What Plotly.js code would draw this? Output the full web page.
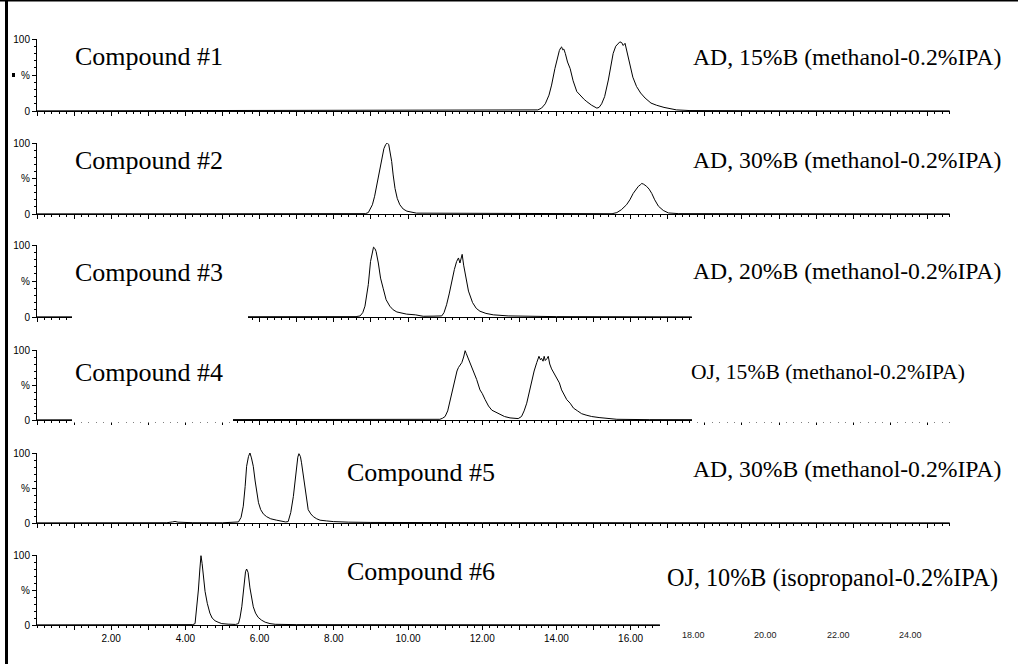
<!DOCTYPE html>
<html><head><meta charset="utf-8">
<script src="https://cdn.plot.ly/plotly-3.0.1.min.js"></script>
<style>html,body{margin:0;padding:0;background:#fff}#chart{width:1018px;height:664px}</style>
</head><body><div id="chart"></div>
<script>
// ---- text ----
const compoundLabels = ["Compound #1","Compound #2","Compound #3","Compound #4","Compound #5","Compound #6"];
const conditionLabels = [
  "AD, 15%B (methanol-0.2%IPA)",
  "AD, 30%B (methanol-0.2%IPA)",
  "AD, 20%B (methanol-0.2%IPA)",
  "OJ, 15%B (methanol-0.2%IPA)",
  "AD, 30%B (methanol-0.2%IPA)",
  "OJ, 10%B (isopropanol-0.2%IPA)"
];
const bottomTickLabels = ["2.00","4.00","6.00","8.00","10.00","12.00","14.00","16.00"];
const cutTickLabels = ["18.00","20.00","22.00","24.00"];
const yTickVals = [0, 50, 100];
const yTickText = ["0", "%", "100"];

// ---- data: retention time (min) vs relative intensity (%) ----
const time1 = [0,3,6,9,12,13.3,13.5,13.6,13.7,13.8,13.87,13.96,14.03,14.08,14.12,14.14,14.17,14.2,14.24,14.3,14.37,14.45,14.55,14.65,14.75,14.82,14.95,15.09,15.15,15.22,15.3,15.4,15.47,15.53,15.6,15.66,15.71,15.76,15.8,15.85,15.92,15.98,16.06,16.16,16.27,16.39,16.55,16.7,16.9,17.24,17.6,20,24.6];
const pct1  = [0.2,0.3,0.2,0.3,0.4,0.6,1.5,4,10,22,36,59,74,84,88,89,85,86,80,68,59,42,27,21,16,13,8,4,5,10,20,43,64,80,90,93,96,95,91,94,78,62,47,34,25,18,11,8,5,1.5,0.6,0.3,0.2];

const time2 = [0,4,8,8.85,8.93,9.04,9.1,9.16,9.22,9.29,9.35,9.4,9.44,9.48,9.52,9.56,9.6,9.65,9.71,9.78,9.87,9.97,10.23,12,14,15.5,15.63,15.75,15.89,15.98,16.07,16.15,16.21,16.26,16.3,16.35,16.43,16.5,16.57,16.65,16.75,16.88,17.02,17.3,20,24.6];
const pct2  = [0.2,0.3,0.3,0.5,2,13,25,41,60,78,92,98,100,98,88,74,55,36,22,13,7,4,1.2,0.6,0.4,0.4,2,6,13,20,29,35,39,41,43,42,39,35,29,20,11,5,1.5,0.5,0.3,0.2];

const time3 = [0,3,6,8,8.6,8.71,8.78,8.84,8.93,8.99,9.03,9.07,9.11,9.14,9.2,9.24,9.26,9.33,9.41,9.51,9.6,9.7,9.96,10.2,10.41,10.7,10.91,10.97,11.04,11.11,11.18,11.25,11.31,11.36,11.4,11.43,11.46,11.5,11.54,11.63,11.74,11.84,11.94,12.1,12.3,12.7,14,17.65];
const pct3  = [0.2,0.3,0.2,0.3,0.5,1.5,6,15,45,77,90,97,95,91,75,62,54,40,24,15,10,7,4,3,1,1.2,1.5,6,17,32,50,66,77,82,75,82,87,72,59,36,20,12,8,5,3,1.5,0.5,0.2];

const time4 = [0,4,8,10.5,10.86,10.93,11.0,11.07,11.13,11.2,11.27,11.32,11.36,11.45,11.5,11.54,11.57,11.6,11.66,11.72,11.78,11.85,11.94,12.0,12.08,12.17,12.26,12.37,12.48,12.6,12.75,12.97,13.06,13.13,13.2,13.27,13.33,13.4,13.47,13.53,13.57,13.6,13.64,13.67,13.7,13.72,13.75,13.78,13.82,13.87,13.94,14.01,14.08,14.14,14.21,14.28,14.37,14.46,14.57,14.68,14.8,14.95,15.15,15.36,15.63,16.5,20,24.6];
const pct4  = [0.2,0.3,0.2,0.4,1,2.5,5,13,27,45,63,70,75,82,90,99,95,91,83,75,67,58,43,38,29,20,14,11,8,5,3,2,5,13,24,40,57,70,82,91,86,88,84,91,85,86,88,91,80,73,67,60,53,43,36,29,24,17,13,9,7,5,3.5,2,1,0.5,0.3,0.2];

const time5 = [0,2,3.5,3.65,3.72,3.8,4.2,5,5.35,5.43,5.5,5.56,5.61,5.65,5.7,5.74,5.78,5.83,5.88,5.92,5.97,6.03,6.1,6.19,6.3,6.46,6.6,6.7,6.77,6.84,6.91,6.96,7.0,7.03,7.06,7.1,7.13,7.18,7.22,7.27,7.31,7.38,7.45,7.54,7.63,7.8,7.99,8.4,9,12,16,20,24.6];
const pct5  = [0.2,0.3,0.4,1.5,2.2,1.2,0.4,0.3,0.5,1.5,8,24,52,81,95,100,93,81,60,43,29,19,13,9,6,4,2.5,1.5,2,15,38,62,81,94,99,95,86,67,48,30,19,13,9,6,4,3,2,1.2,0.8,0.5,0.4,0.3,0.2];

const time6 = [0,2,4,4.2,4.26,4.3,4.35,4.39,4.42,4.45,4.48,4.53,4.59,4.66,4.72,4.8,4.88,4.98,5.15,5.35,5.43,5.47,5.52,5.56,5.59,5.62,5.65,5.67,5.69,5.74,5.78,5.83,5.89,5.96,6.05,6.15,6.28,6.42,7,10,14,16.79];
const pct6  = [0.2,0.3,0.4,0.5,2,20,50,80,99,88,75,48,31,17,10,6,4,2,1.2,0.8,2,10,26,48,65,76,80,77,75,53,38,26,17,11,7,4,2,1,0.5,0.4,0.3,0.2];

const times = [time1,time2,time3,time4,time5,time6];
const pcts  = [pct1,pct2,pct3,pct4,pct5,pct6];

// ---- layout geometry (pixels) ----
const W = 1018, H = 664;
const fx = p => p / W;
const fy = p => 1 - p / H;
const pxPerMin = 37.1;
const panels = [
  {x0:37, x1:950, yb:111, yt:39},
  {x0:37, x1:950, yb:214, yt:143},
  {x0:37, x1:692, yb:317, yt:245},
  {x0:37, x1:950, yb:420, yt:350},
  {x0:37, x1:950, yb:523, yt:453},
  {x0:37, x1:660, yb:625, yt:555}
];
const compoundPos = [[73,57],[73,160],[73,272],[73,372],[345,472],[345,571]];
const conditionPos = [[1003,57],[1003,160],[1003,271],[967,372],[1003,469],[1000,578]];
const conditionSize = [23.7,23.7,23.7,21.6,23.7,24.2];
const cutTickPx = [693,765,838,910];

const sans = "Liberation Sans, Arial, sans-serif";
const serif = "Liberation Serif, Times New Roman, serif";

const data = [];
const layout = {
  width: W, height: H,
  margin: {l:0, r:0, t:0, b:0},
  paper_bgcolor: '#fff', plot_bgcolor: 'rgba(0,0,0,0)',
  showlegend: false, hovermode: false,
  shapes: [], annotations: []
};

// bottom axis tick values / labels (major ticks every minute, labels every 2)
const botVals = [], botText = [];
for (let m = 1; m <= 16; m++) {
  botVals.push(m);
  const lbl = bottomTickLabels.find(s => parseFloat(s) === m);
  botText.push(lbl || "");
}

panels.forEach((p, i) => {
  const n = i + 1;
  const xa = 'xaxis' + n, ya = 'yaxis' + n;
  data.push({
    x: times[i], y: pcts[i], xaxis: 'x' + n, yaxis: 'y' + n,
    type: 'scatter', mode: 'lines', line: {color: '#000', width: 1}, cliponaxis: true
  });
  const isBottom = (n === 6);
  layout[xa] = {
    domain: [fx(p.x0), fx(p.x1)], range: [0, (p.x1 - p.x0) / pxPerMin],
    anchor: 'y' + n, showline: true, linecolor: '#000', linewidth: 1,
    showgrid: false, zeroline: false, fixedrange: true,
    ticks: 'outside', ticklen: 4, tickwidth: 1, tickcolor: '#000',
    minor: {tickmode: 'linear', tick0: 0, dtick: 0.2, ticks: 'outside', ticklen: 2, tickcolor: '#000', showgrid: false},
    showticklabels: isBottom,
    tickfont: {family: sans, size: 10, color: '#000'}
  };
  if (isBottom) {
    layout[xa].tickmode = 'array';
    layout[xa].tickvals = botVals;
    layout[xa].ticktext = botText;
  } else {
    layout[xa].tickmode = 'linear';
    layout[xa].tick0 = 0;
    layout[xa].dtick = 1;
  }
  layout[ya] = {
    domain: [fy(p.yb), fy(p.yt)], range: [0, 100],
    anchor: 'x' + n, showline: true, linecolor: '#000', linewidth: 1,
    showgrid: false, zeroline: false, fixedrange: true,
    ticks: 'outside', ticklen: 4, tickwidth: 1, tickcolor: '#000',
    tickmode: 'array', tickvals: yTickVals, ticktext: yTickText,
    minor: {tickmode: 'linear', tick0: 0, dtick: 10, ticks: 'outside', ticklen: 2, tickcolor: '#000', showgrid: false},
    tickfont: {family: sans, size: 10, color: '#000'}
  };

  layout.annotations.push({
    xref: 'paper', yref: 'paper', x: fx(compoundPos[i][0]), y: fy(compoundPos[i][1]),
    xanchor: 'left', yanchor: 'middle', showarrow: false, text: compoundLabels[i],
    font: {family: serif, size: 26, color: '#000'}
  });
  layout.annotations.push({
    xref: 'paper', yref: 'paper', x: fx(conditionPos[i][0]), y: fy(conditionPos[i][1]),
    xanchor: 'right', yanchor: 'middle', showarrow: false, text: conditionLabels[i],
    font: {family: serif, size: conditionSize[i], color: '#000'}
  });
});

// clipped tick labels to the right of the bottom axis
cutTickLabels.forEach((t, k) => {
  layout.annotations.push({
    xref: 'paper', yref: 'paper', x: fx(cutTickPx[k]), y: fy(635),
    xanchor: 'center', yanchor: 'middle', showarrow: false, text: t,
    font: {family: sans, size: 9, color: '#222'}
  });
});

const rect = (x0, x1, y0, y1, color) => ({
  type: 'rect', xref: 'paper', yref: 'paper', layer: 'above',
  x0: fx(x0), x1: fx(x1), y0: fy(y1), y1: fy(y0),
  fillcolor: color, line: {width: 0}
});
// whited-out pieces of the pasted-together axes
layout.shapes.push(rect(72, 248, 313, 325, '#fff'));
layout.shapes.push(rect(72, 233, 418.5, 422.6, '#fff'));
layout.shapes.push(rect(692, 956, 418.5, 422.6, '#fff'));
// frame
layout.shapes.push(rect(5, 8, 0, 664, '#000'));
layout.shapes.push(rect(0, 1018, 0, 1.5, '#000'));
// small speck near first y axis
layout.shapes.push(rect(12, 15, 73, 77, '#000'));

Plotly.newPlot('chart', data, layout, {displayModeBar: false, staticPlot: true});
</script>
</body></html>
